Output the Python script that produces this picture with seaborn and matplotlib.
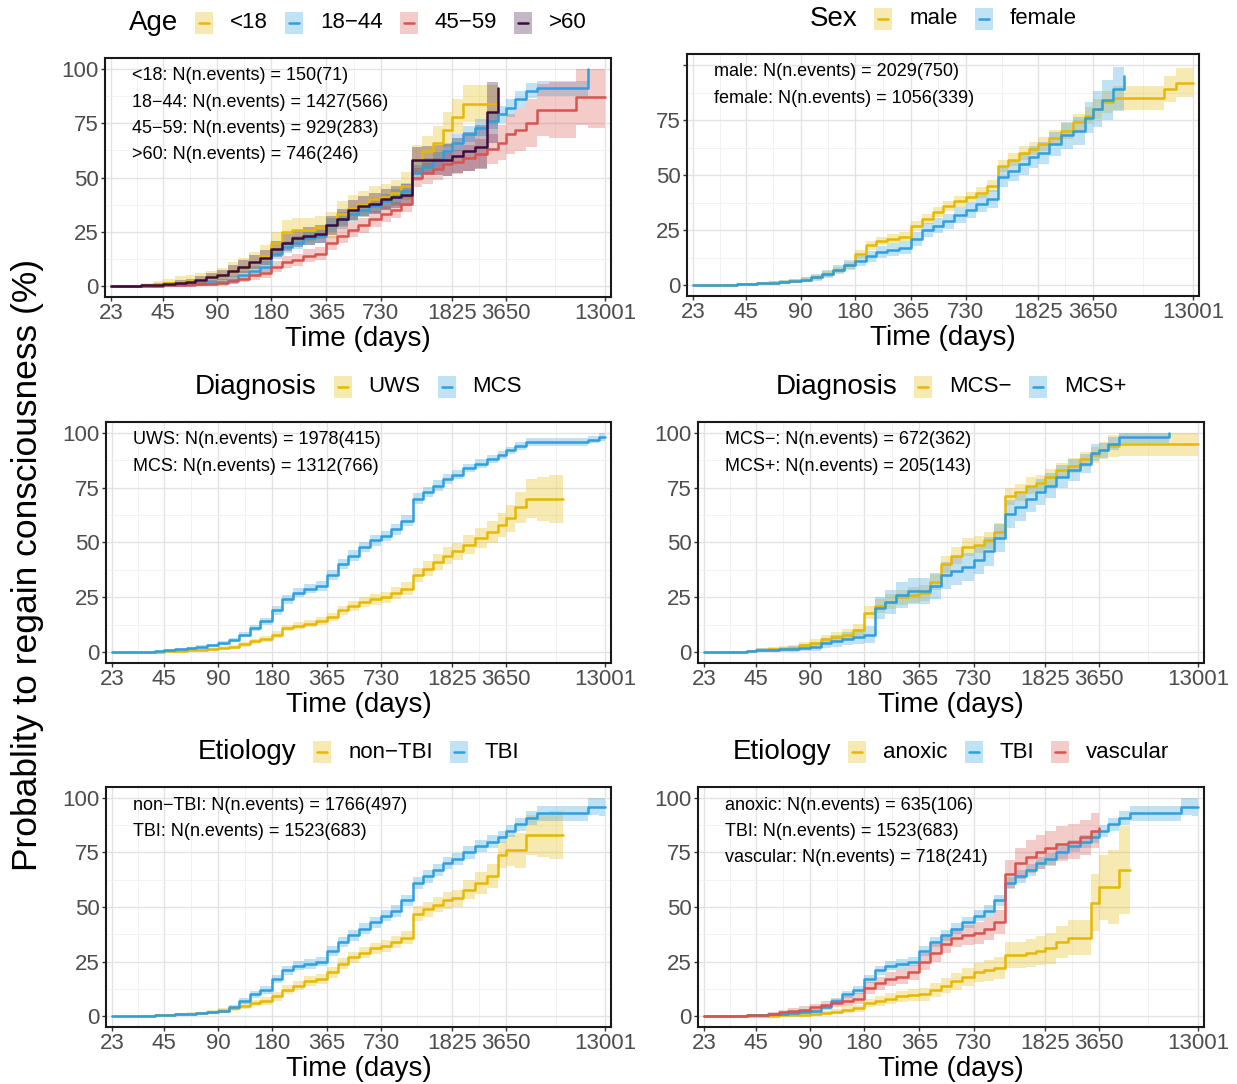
import numpy as np
import pandas as pd
import matplotlib
matplotlib.use('Agg')
import matplotlib.pyplot as plt
import seaborn as sns
from matplotlib.patches import Rectangle
from matplotlib.lines import Line2D
from matplotlib.ticker import NullFormatter

# --- data ---
DAYS = [23, 28, 34, 40, 45, 52, 60, 68, 78, 90, 103, 118, 135, 155, 180, 205, 235, 270, 315, 365,
        420, 480, 550, 630, 730, 830, 950, 1095, 1250, 1430, 1630, 1825, 2100, 2450, 2850, 3300,
        3650, 4100, 4700, 5400, 6300, 7600, 9000, 10500, 12000, 13001]
X_TICKS = [23, 45, 90, 180, 365, 730, 1825, 3650, 13001]
Y_TICKS = [0, 25, 50, 75, 100]

# Age
age_lt18 = [0, 0, 0.5, 1, 1.5, 2, 2.5, 3, 4, 5, 7, 9, 11, 14, 20, 25, 26, 26, 27, 28,
            33, 36, 38, 40, 41, 43, 46, 58, 62, 66, 72, 78, 84, 84, 84, 84]
age_18_44 = [0, 0, 0, 0.2, 0.3, 0.5, 0.8, 1, 1.5, 2, 3, 5, 7, 9, 15, 18, 20, 22, 23, 28,
             31, 33, 35, 37, 39, 41, 44, 52, 55, 58, 62, 66, 70, 73, 76, 79, 82, 86, 90, 91,
             91, 91, 91, 100]
age_45_59 = [0, 0, 0, 0.2, 0.3, 0.5, 0.7, 1, 1.2, 1.5, 2.5, 3.5, 5, 6, 9, 11, 12, 14, 15, 20,
             23, 26, 28, 31, 33, 35, 38, 50, 52, 54, 56, 57, 59, 61, 63, 66, 70, 72, 75, 81,
             81, 81, 87, 87, 87, 87]
age_gt60 = [0, 0, 0.3, 0.6, 1, 1.5, 2, 3, 4, 5, 7, 9, 11, 13, 17, 20, 22, 23, 24, 28,
            31, 35, 37, 38, 40, 41, 42, 58, 58, 58, 58, 60, 62, 64, 80, 91]
ci_lt18 = [0, 0.5, 1, 1.5, 2, 2.5, 2.5, 3, 3, 3.5, 4, 4, 4.5, 5, 5, 5.5, 5.5, 5.5, 5.5, 6,
           6, 6, 6, 6, 6, 6, 6.5, 7, 7, 7.5, 8, 8, 8.5, 8.5, 8.5, 8.5]
ci_18_44 = [0, 0.2, 0.3, 0.4, 0.5, 0.6, 0.8, 1, 1.2, 1.5, 1.8, 2, 2.2, 2.4, 2.6, 2.8, 3, 3, 3, 3.2,
            3.2, 3.3, 3.4, 3.5, 3.5, 3.5, 3.6, 3.8, 3.8, 3.8, 3.8, 3.8, 3.8, 3.8, 3.8, 3.8, 4, 4, 3.5, 3.5,
            3.5, 3.5, 3.5, 0]
ci_45_59 = [0, 0.2, 0.3, 0.4, 0.5, 0.6, 0.8, 1, 1.2, 1.4, 1.6, 1.8, 2, 2.2, 2.5, 2.7, 2.8, 3, 3, 3.2,
            3.3, 3.4, 3.5, 3.6, 3.7, 3.8, 4, 4.5, 4.8, 5, 5.2, 5.5, 6, 6.5, 7, 8, 9, 10, 11, 12,
            13, 13, 13, 14, 14, 14]
ci_gt60 = [0, 0.3, 0.5, 0.7, 1, 1.2, 1.5, 1.8, 2, 2.3, 2.6, 3, 3.2, 3.5, 3.8, 4, 4, 4.2, 4.2, 4.5,
           4.5, 4.6, 4.6, 4.7, 4.8, 5, 5, 6, 6.5, 7, 7.5, 8, 9, 10, 14, 18]

# Sex
sex_male = [0, 0, 0.2, 0.4, 0.6, 0.8, 1, 1.3, 1.8, 2.5, 3.5, 5, 7, 9, 14, 18, 20, 21, 22, 27,
            30, 33, 36, 38, 40, 42, 45, 54, 57, 60, 62, 64, 67, 70, 74, 77, 80, 83, 85, 85,
            85, 85, 89, 92, 92, 92]
sex_female = [0, 0, 0.2, 0.4, 0.6, 0.8, 1, 1.3, 1.8, 2.5, 3.5, 5, 7, 9, 11, 13, 15, 16, 17, 21,
              25, 27, 29, 32, 34, 37, 39, 49, 52, 55, 58, 60, 64, 68, 70, 76, 80, 84, 89, 95]
ci_male = [0, 0.2, 0.3, 0.4, 0.5, 0.6, 0.7, 0.8, 0.9, 1, 1.1, 1.2, 1.4, 1.6, 1.8, 2, 2, 2.1, 2.1, 2.2,
           2.2, 2.3, 2.3, 2.4, 2.4, 2.5, 2.6, 2.8, 2.9, 3, 3.1, 3.2, 3.4, 3.6, 3.8, 4, 4.5, 5, 5.5, 5.5,
           5.5, 5.5, 6, 6.5, 6.5, 6.5]
ci_female = [0, 0.2, 0.3, 0.4, 0.5, 0.6, 0.8, 1, 1.1, 1.3, 1.5, 1.7, 2, 2.2, 2.4, 2.6, 2.8, 3, 3, 3.2,
             3.3, 3.4, 3.5, 3.6, 3.7, 3.8, 4, 4.5, 4.6, 4.8, 5, 5.2, 5.5, 6, 6.5, 7, 8, 9, 10, 11]

# Diagnosis UWS / MCS
dx_uws = [0, 0, 0, 0.2, 0.4, 0.6, 0.8, 1, 1.3, 2, 2.5, 3.5, 5, 6, 8, 11, 12, 13, 14, 16,
          19, 21, 23, 24, 25, 27, 29, 35, 38, 41, 44, 46, 49, 52, 55, 58, 61, 66, 70, 70,
          70, 70]
dx_mcs = [0, 0, 0.2, 0.5, 0.8, 1.2, 1.8, 2.3, 3, 4, 5.5, 8, 11, 14, 19, 24, 27, 29, 30, 35,
          40, 44, 48, 51, 53, 56, 60, 70, 73, 76, 79, 81, 84, 86, 88, 90, 92, 94, 96, 96,
          96, 96, 96, 97, 98, 98]
ci_uws = [0, 0.1, 0.2, 0.3, 0.3, 0.4, 0.5, 0.6, 0.7, 0.8, 0.9, 1, 1.1, 1.2, 1.4, 1.5, 1.6, 1.7, 1.8, 2,
          2.1, 2.2, 2.3, 2.4, 2.5, 2.6, 2.8, 3.2, 3.4, 3.6, 3.8, 4, 4.3, 4.6, 5, 5.5, 6, 7, 9, 10,
          11, 11]
ci_mcs = [0, 0.1, 0.2, 0.3, 0.4, 0.5, 0.6, 0.7, 0.8, 1, 1.1, 1.3, 1.5, 1.7, 1.9, 2, 2.1, 2.2, 2.2, 2.3,
          2.3, 2.4, 2.4, 2.4, 2.4, 2.4, 2.4, 2.4, 2.4, 2.3, 2.2, 2.1, 2, 1.9, 1.8, 1.8, 1.8, 1.8, 1.8, 1.8,
          1.8, 1.8, 1.8, 1.8, 1.8, 1.8]

# Diagnosis MCS- / MCS+
dx_mcs_minus = [0, 0, 0, 0.5, 1, 1.2, 1.5, 2, 3, 4, 6, 7, 8, 10, 18, 21, 23, 25, 26, 27,
                32, 40, 44, 48, 49, 51, 55, 71, 73, 76, 77, 80, 83, 85, 88, 90, 92, 94, 95, 95,
                95, 95, 95, 95, 95, 95]
dx_mcs_plus = [0, 0, 0, 0.5, 1, 1, 1.2, 1.5, 2, 2.5, 4, 5, 6, 7, 8, 20, 23, 26, 28, 28,
               30, 35, 37, 39, 42, 46, 52, 63, 66, 70, 73, 76, 80, 83, 86, 91, 92, 95, 98, 98,
               98, 98, 100]
ci_mcs_minus = [0, 0.3, 0.4, 0.6, 0.8, 1, 1.2, 1.4, 1.6, 1.8, 2, 2.3, 2.5, 2.8, 3, 3.2, 3.3, 3.4, 3.5, 3.6,
                3.7, 3.8, 3.9, 4, 4, 4, 4, 4, 3.9, 3.8, 3.7, 3.6, 3.5, 3.4, 3.4, 3.5, 4, 5, 5.5, 5.5,
                5.5, 5.5, 5.5, 5.5, 5.5, 5.5]
ci_mcs_plus = [0, 0.3, 0.4, 0.6, 0.8, 1, 1.2, 1.4, 1.6, 1.9, 2.2, 2.6, 3, 3.5, 4, 5, 5.5, 5.8, 6, 6,
               6, 6.2, 6.3, 6.4, 6.5, 6.5, 6.5, 6.5, 6.3, 6, 5.8, 5.5, 5.2, 5, 4.5, 4, 3.5, 3, 2.5, 2.5,
               2.5, 2.5, 0]

# Etiology
et_non_tbi = [0, 0, 0.2, 0.4, 0.5, 0.8, 1, 1.3, 1.7, 2.5, 3.5, 4.5, 6, 7, 9, 12, 14, 16, 17, 20,
              24, 27, 29, 31, 32, 34, 36, 47, 49, 51, 53, 54, 58, 61, 64, 74, 76, 76, 83, 83,
              83, 83]
et_tbi = [0, 0, 0.2, 0.4, 0.5, 0.8, 1, 1.3, 1.7, 2.5, 4, 7, 10, 12, 17, 21, 23, 24, 25, 30,
          34, 37, 40, 43, 46, 48, 53, 61, 64, 67, 70, 72, 75, 78, 80, 82, 85, 88, 91, 93,
          93, 93, 93, 96, 96, 96]
et_anoxic = [0, 0, 0, 0, 0.1, 0.2, 0.3, 0.5, 0.7, 1, 1.5, 2, 3, 3.5, 6, 7, 8, 9, 9.5, 10,
             12, 14, 16, 18, 20, 21, 22, 28, 28, 29, 30, 31, 34, 36, 36, 52, 59, 59, 67, 67]
et_vascular = [0, 0, 0.2, 0.4, 0.6, 1, 1.8, 2.5, 3, 4, 5, 6, 7, 8, 13, 15, 17, 18, 20, 25,
               29, 33, 36, 37, 38, 40, 43, 65, 70, 73, 75, 77, 79, 80, 82, 85, 86]
ci_non_tbi = [0, 0.2, 0.3, 0.4, 0.5, 0.6, 0.7, 0.8, 0.9, 1, 1.2, 1.4, 1.6, 1.8, 2, 2.1, 2.2, 2.3, 2.4, 2.5,
              2.5, 2.6, 2.6, 2.7, 2.8, 2.9, 3, 3.3, 3.4, 3.5, 3.7, 4, 4.5, 5, 5.5, 6, 7, 8, 9, 10,
              11, 11]
ci_tbi = [0, 0.1, 0.2, 0.3, 0.4, 0.5, 0.6, 0.7, 0.8, 0.9, 1.1, 1.3, 1.5, 1.7, 1.9, 2, 2.1, 2.2, 2.2, 2.3,
          2.4, 2.5, 2.5, 2.6, 2.6, 2.7, 2.7, 2.8, 2.8, 2.8, 2.8, 2.8, 2.8, 2.8, 2.8, 2.8, 2.8, 3, 3.2, 3.5,
          3.5, 3.5, 3.5, 4, 4.5, 4.5]
ci_anoxic = [0, 0, 0.1, 0.2, 0.3, 0.4, 0.5, 0.6, 0.7, 0.8, 1, 1.2, 1.4, 1.5, 2, 2.2, 2.4, 2.6, 2.8, 3,
             3.3, 3.6, 3.9, 4.2, 4.5, 4.8, 5, 6, 6, 6.3, 6.6, 7, 7.5, 8, 8, 13, 15, 17, 20, 20]
ci_vascular = [0, 0.1, 0.2, 0.4, 0.5, 0.7, 1, 1.2, 1.4, 1.6, 1.8, 2, 2.2, 2.4, 2.8, 3, 3.2, 3.4, 3.6, 3.8,
               4, 4.2, 4.4, 4.6, 5, 5.2, 5.5, 6.5, 7, 7.5, 7.8, 8, 8, 8, 8, 8, 8]

YELLOW, BLUE, RED, PURPLE = '#E7B800', '#2E9FDF', '#D9534F', '#3A0E3F'

MINUS = '\u2212'
PANELS = [
    dict(box=(105, 58, 611, 297), title='Age', show100=True,
         groups=[('<18', age_lt18, ci_lt18, YELLOW, '150(71)'),
                 ('18' + MINUS + '44', age_18_44, ci_18_44, BLUE, '1427(566)'),
                 ('45' + MINUS + '59', age_45_59, ci_45_59, RED, '929(283)'),
                 ('>60', age_gt60, ci_gt60, PURPLE, '746(246)')]),
    dict(box=(687, 54, 1199, 296), title='Sex', show100=False,
         groups=[('male', sex_male, ci_male, YELLOW, '2029(750)'),
                 ('female', sex_female, ci_female, BLUE, '1056(339)')]),
    dict(box=(106, 422, 611, 663), title='Diagnosis', show100=True,
         groups=[('UWS', dx_uws, ci_uws, YELLOW, '1978(415)'),
                 ('MCS', dx_mcs, ci_mcs, BLUE, '1312(766)')]),
    dict(box=(698, 422, 1204, 663), title='Diagnosis', show100=True,
         groups=[('MCS' + MINUS, dx_mcs_minus, ci_mcs_minus, YELLOW, '672(362)'),
                 ('MCS+', dx_mcs_plus, ci_mcs_plus, BLUE, '205(143)')]),
    dict(box=(106, 787, 611, 1027), title='Etiology', show100=True,
         groups=[('non' + MINUS + 'TBI', et_non_tbi, ci_non_tbi, YELLOW, '1766(497)'),
                 ('TBI', et_tbi, ci_tbi, BLUE, '1523(683)')]),
    dict(box=(698, 787, 1204, 1027), title='Etiology', show100=True,
         groups=[('anoxic', et_anoxic, ci_anoxic, YELLOW, '635(106)'),
                 ('TBI', et_tbi, ci_tbi, BLUE, '1523(683)'),
                 ('vascular', et_vascular, ci_vascular, RED, '718(241)')]),
]

sns.set_theme(style='white')
plt.rcParams['font.family'] = ['Liberation Sans', 'DejaVu Sans']

FIG_W, FIG_H = 1237, 1084
fig = plt.figure(figsize=(FIG_W / 100, FIG_H / 100), dpi=100)
fig.patch.set_facecolor('white')


def add_axes_px(box):
    l, t, r, b = box
    return fig.add_axes([l / FIG_W, 1 - b / FIG_H, (r - l) / FIG_W, (b - t) / FIG_H])


def draw_panel(ax, panel):
    ax.set_xscale('log')
    # confidence bands first, curves on top
    for name, vals, ci, color, _ in panel['groups']:
        n = len(vals)
        df = pd.DataFrame({'days': DAYS[:n], 'prob': vals, 'ci': ci})
        lo = (df['prob'] - df['ci']).clip(0, 100)
        hi = (df['prob'] + df['ci']).clip(0, 100)
        ax.fill_between(df['days'], lo, hi, step='post', color=color, alpha=0.3, lw=0, zorder=2)
    for name, vals, ci, color, _ in panel['groups']:
        n = len(vals)
        df = pd.DataFrame({'days': DAYS[:n], 'prob': vals})
        sns.lineplot(data=df, x='days', y='prob', ax=ax, color=color, lw=1.8,
                     drawstyle='steps-post', estimator=None, sort=False, legend=False, zorder=3)

    ax.set_xlim(21.3, 14040)
    ax.set_ylim(-5, 105)
    ax.set_xticks(X_TICKS)
    ax.set_xticklabels([str(t) for t in X_TICKS])
    minor_x = [np.sqrt(a * b) for a, b in zip(X_TICKS[:-1], X_TICKS[1:])]
    ax.set_xticks(minor_x, minor=True)
    ax.xaxis.set_minor_formatter(NullFormatter())
    ax.set_yticks(Y_TICKS)
    ylabs = [str(t) for t in Y_TICKS]
    if not panel['show100']:
        ylabs[-1] = ''
    ax.set_yticklabels(ylabs)
    ax.set_yticks([12.5, 37.5, 62.5, 87.5], minor=True)

    ax.grid(which='major', color='#E3E3E3', lw=1.0, zorder=0)
    ax.grid(which='minor', color='#F0F0F0', lw=0.6, zorder=0)
    ax.set_axisbelow(True)
    ax.tick_params(which='major', direction='out', length=3, width=1, color='#333333',
                   labelcolor='#4D4D4D', labelsize=16, pad=1.5,
                   bottom=True, left=True)
    ax.tick_params(which='minor', length=0)
    for sp in ax.spines.values():
        sp.set_color('#1A1A1A')
        sp.set_linewidth(1.5)
    ax.set_xlabel('Time (days)', fontsize=20, labelpad=1, color='black')
    ax.set_ylabel('')

    for i, (name, vals, ci, color, nev) in enumerate(panel['groups']):
        ax.annotate(f'{name}: N(n.events) = {nev}', xy=(0, 1), xycoords='axes fraction',
                    xytext=(27, -18 - 26.3 * i), textcoords='offset pixels',
                    fontsize=13, ha='left', va='center', color='black')


def draw_legend(panel, renderer):
    l, t, r, b = panel['box']
    yc = FIG_H - (t - 35)
    gap, kw, kh = 17, 18, 22
    pieces = []
    title = fig.text(0, 0, panel['title'], fontsize=20, va='center', ha='left', color='black')
    pieces.append(('text', title, title.get_window_extent(renderer).width))
    for name, vals, ci, color, _ in panel['groups']:
        pieces.append(('key', color, kw))
        lab = fig.text(0, 0, name, fontsize=16, va='center', ha='left', color='black')
        pieces.append(('text', lab, lab.get_window_extent(renderer).width))
    total = sum(p[2] for p in pieces) + gap * (len(pieces) - 1)
    x = (l + r) / 2 - total / 2
    for kind, obj, w in pieces:
        if kind == 'text':
            obj.set_position((x / FIG_W, yc / FIG_H))
        else:
            fig.add_artist(Rectangle((x / FIG_W, (yc - kh / 2) / FIG_H), kw / FIG_W, kh / FIG_H,
                                     transform=fig.transFigure, facecolor=obj, alpha=0.3, lw=0))
            fig.add_artist(Line2D([(x + 4) / FIG_W, (x + kw - 4) / FIG_W], [yc / FIG_H, yc / FIG_H],
                                  transform=fig.transFigure, color=obj, lw=1.8))
        x += w + gap


for panel in PANELS:
    ax = add_axes_px(panel['box'])
    draw_panel(ax, panel)

fig.canvas.draw()
renderer = fig.canvas.get_renderer()
for panel in PANELS:
    draw_legend(panel, renderer)

fig.text(28 / FIG_W, 1 - 565 / FIG_H, 'Probablity to regain consciousness (%)', rotation=90,
         fontsize=25.5, ha='center', va='center', color='black')

fig.savefig('out.png', dpi=100, facecolor='white')
